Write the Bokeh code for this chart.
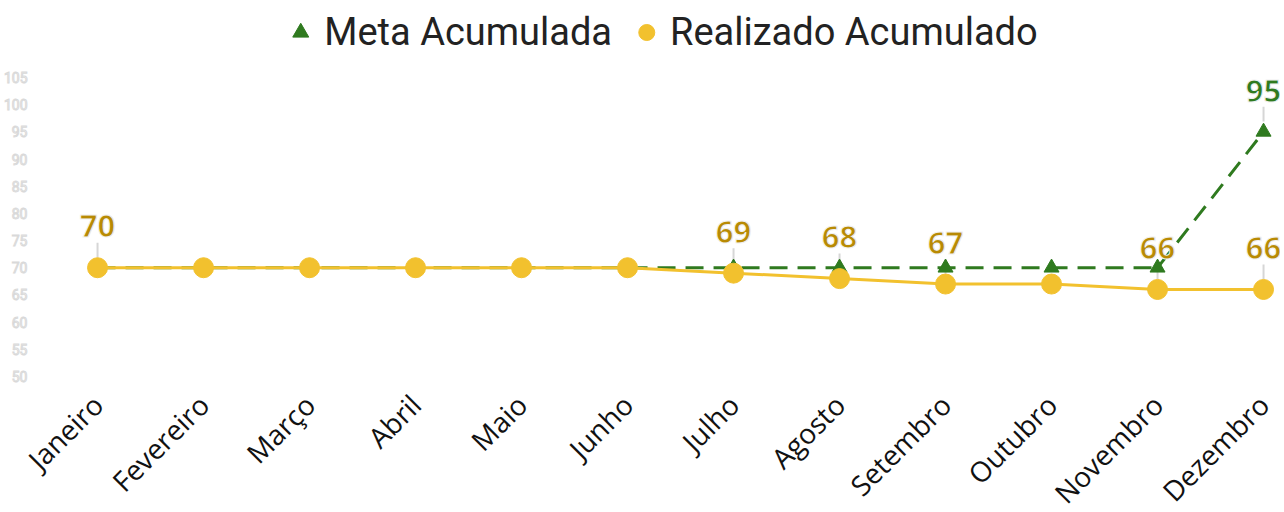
from bokeh.plotting import figure
from bokeh.models import Legend, LegendItem, FixedTicker, Range1d
from bokeh.core.properties import value
from bokeh.embed import file_html
from bokeh.resources import INLINE

meses = ["Janeiro", "Fevereiro", "Março", "Abril", "Maio", "Junho", "Julho",
         "Agosto", "Setembro", "Outubro", "Novembro", "Dezembro"]
meta = [70, 70, 70, 70, 70, 70, 70, 70, 70, 70, 70, 95]
realizado = [70, 70, 70, 70, 70, 70, 69, 68, 67, 67, 66, 66]
meta_rotulo = [False] * 11 + [True]
realizado_rotulo = [True, False, False, False, False, False, True, True, True, False, True, True]
y_ticks = list(range(50, 106, 5))

GREEN = "#2f7a1f"
YELLOW = "#f2c12e"
GOLD = "#b88a04"

xs = list(range(len(meses)))

p = figure(frame_width=1242, frame_height=381, output_backend="svg", toolbar_location=None,
           x_range=Range1d(-0.557, 11.16), y_range=Range1d(49.07, 119.16),
           min_border_left=34, min_border_right=0, min_border_top=0, min_border_bottom=0)
p.outline_line_color = None
p.grid.visible = False
p.background_fill_color = "white"

# lines
p.line(xs, meta, line_color=GREEN, line_width=3, line_dash="18 10")
p.line(xs, realizado, line_color=YELLOW, line_width=3)
tri = p.scatter(xs, meta, marker="triangle", size=15, fill_color=GREEN, line_color=GREEN)
circ = p.scatter(xs, realizado, marker="circle", size=20, fill_color=YELLOW, line_color=YELLOW)

# data labels
off_lo, off_hi, off_txt = 1.9, 4.6, 7.6
rx = [x for x, f in zip(xs, realizado_rotulo) if f]
ry = [v for v, f in zip(realizado, realizado_rotulo) if f]
mx = [x for x, f in zip(xs, meta_rotulo) if f]
my = [v for v, f in zip(meta, meta_rotulo) if f]

p.segment(rx, [v + off_lo for v in ry], rx, [v + off_hi for v in ry], line_color="#d6d6d6", line_width=2, level="underlay")
p.segment(mx, [v + off_lo for v in my], mx, [v + off_hi for v in my], line_color="#d6d6d6", line_width=2, level="underlay")

p.text(rx, [v + off_txt for v in ry], text=[str(v) for v in ry], text_align="center",
       text_baseline="middle", text_font=value("Noto Sans"), text_font_style="bold",
       text_font_size="31px", text_color=GOLD, text_outline_color="#f0f0f0")
p.text(mx, [v + off_txt for v in my], text=[str(v) for v in my], text_align="center",
       text_baseline="middle", text_font=value("Noto Sans"), text_font_style="bold",
       text_font_size="31px", text_color=GREEN, text_outline_color="#f0f0f0")

# axes
p.xaxis.ticker = FixedTicker(ticks=xs)
p.xaxis.major_label_overrides = {i: m for i, m in enumerate(meses)}
p.xaxis.major_label_orientation = 0.785398
p.xaxis.major_label_text_font = "Open Sans"
p.xaxis.major_label_text_font_size = "28px"
p.xaxis.major_label_text_color = "#111111"
p.xaxis.axis_line_color = None
p.xaxis.major_tick_line_color = None
p.xaxis.minor_tick_line_color = None
p.xaxis.major_label_standoff = 12

p.yaxis.ticker = FixedTicker(ticks=y_ticks)
p.yaxis.major_label_text_font = "Roboto"
p.yaxis.major_label_text_font_size = "14px"
p.yaxis.major_label_text_color = "#e8e8e8"
try:
    p.yaxis.major_label_text_outline_color = "#d9d9d9"
    p.yaxis.major_label_text_color = "#ffffff"
except Exception:
    pass
p.yaxis.axis_line_color = None
p.yaxis.major_tick_line_color = None
p.yaxis.minor_tick_line_color = None
p.yaxis.major_label_standoff = 5

legend = Legend(items=[LegendItem(label="Meta Acumulada", renderers=[tri]),
                       LegendItem(label="Realizado Acumulado", renderers=[circ])],
                orientation="horizontal", location="top_center",
                label_text_font="Roboto", label_text_font_size="38px",
                label_text_color="#222222", border_line_color=None,
                background_fill_alpha=0, glyph_width=40, glyph_height=40,
                spacing=14, label_standoff=4, padding=2, margin=10)
p.add_layout(legend, "center")

open("out.html", "w").write(file_html(p, INLINE))
